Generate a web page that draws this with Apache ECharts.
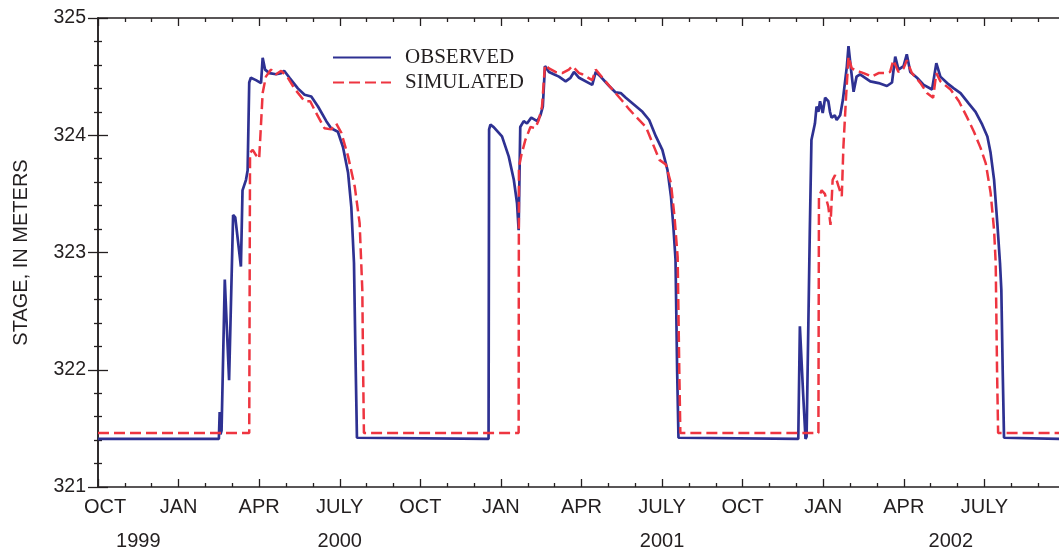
<!DOCTYPE html>
<html><head><meta charset="utf-8">
<script src="https://cdn.jsdelivr.net/npm/echarts@6/dist/echarts.min.js"></script>
<style>html,body{margin:0;padding:0;background:#fff}#c{width:1059px;height:552px}</style>
</head><body><div id="c"></div>
<script>
// x values: months since 1 Oct 1999; y values: stage in meters
const monthLabels = ['OCT', 'JAN', 'APR', 'JULY'];
const yearLabels = [[1.5, '1999'], [9, '2000'], [21, '2001'], [31.75, '2002']];
const yMin = 321, yMax = 325;
const xMin = 0, xMax = 36;

const observed = [
  [0, 321.41], [4.50, 321.41], [4.53, 321.64], [4.56, 321.45], [4.60, 321.48],
  [4.72, 322.77], [4.88, 321.91], [5.03, 323.32], [5.11, 323.30], [5.21, 323.10],
  [5.32, 322.88], [5.38, 323.53], [5.51, 323.62], [5.57, 323.70], [5.63, 324.45],
  [5.69, 324.49], [5.88, 324.47], [6.07, 324.445], [6.13, 324.66], [6.22, 324.56],
  [6.38, 324.53], [6.63, 324.52], [6.82, 324.53], [6.93, 324.55], [7.13, 324.49],
  [7.44, 324.40], [7.69, 324.345], [7.94, 324.33], [8.19, 324.245], [8.50, 324.12],
  [8.68, 324.06], [8.93, 324.03], [9.12, 323.90], [9.31, 323.68], [9.43, 323.39],
  [9.53, 322.91], [9.58, 322.2], [9.64, 321.42],
  [14.54, 321.41], [14.56, 324.05], [14.61, 324.09], [14.73, 324.07], [15.04, 323.99],
  [15.29, 323.82], [15.48, 323.62], [15.60, 323.42], [15.66, 323.19], [15.72, 324.07],
  [15.85, 324.12], [15.97, 324.10], [16.13, 324.15], [16.35, 324.12], [16.47, 324.17],
  [16.56, 324.245], [16.64, 324.59], [16.79, 324.54], [16.97, 324.52], [17.16, 324.50],
  [17.41, 324.46], [17.59, 324.49], [17.72, 324.54], [17.91, 324.49], [18.40, 324.43],
  [18.53, 324.54], [18.71, 324.50], [19.03, 324.42], [19.27, 324.365], [19.46, 324.36],
  [19.65, 324.32], [19.96, 324.26], [20.27, 324.20], [20.52, 324.13], [20.77, 323.99],
  [21.01, 323.875], [21.20, 323.705], [21.33, 323.48], [21.42, 323.22], [21.50, 322.94],
  [21.56, 322.0], [21.61, 321.42],
  [26.07, 321.41], [26.13, 322.37], [26.25, 321.8], [26.34, 321.41], [26.38, 321.43],
  [26.50, 323.19], [26.56, 323.96], [26.63, 323.95], [26.69, 324.10], [26.75, 324.245],
  [26.82, 324.20], [26.88, 324.29], [26.98, 324.19], [27.07, 324.32], [27.19, 324.29],
  [27.25, 324.20], [27.31, 324.15], [27.43, 324.17], [27.50, 324.13], [27.63, 324.17],
  [27.73, 324.30], [27.88, 324.59], [27.94, 324.76], [28.02, 324.59], [28.13, 324.37],
  [28.24, 324.50], [28.37, 324.52], [28.75, 324.46], [29.06, 324.445], [29.37, 324.42],
  [29.56, 324.45], [29.68, 324.67], [29.80, 324.56], [29.99, 324.59], [30.11, 324.69],
  [30.24, 324.54], [30.49, 324.49], [30.74, 324.43], [31.05, 324.39], [31.21, 324.615],
  [31.36, 324.50], [31.61, 324.445], [31.86, 324.40], [32.11, 324.36], [32.42, 324.27],
  [32.67, 324.20], [32.92, 324.09], [33.11, 323.99], [33.23, 323.85], [33.36, 323.62],
  [33.48, 323.25], [33.58, 322.91], [33.63, 322.68], [33.68, 322.0], [33.73, 321.42],
  [36, 321.41]
];

const simulated = [
  [0, 321.46], [5.63, 321.46], [5.66, 323.85], [5.76, 323.875], [5.88, 323.83],
  [6.00, 323.80], [6.07, 324.10], [6.13, 324.36], [6.25, 324.50], [6.44, 324.56],
  [6.63, 324.52], [6.82, 324.55], [7.07, 324.49], [7.31, 324.40], [7.69, 324.29],
  [7.90, 324.29], [8.12, 324.19], [8.43, 324.06], [8.68, 324.05], [8.87, 324.10],
  [9.06, 324.02], [9.31, 323.82], [9.56, 323.56], [9.74, 323.25], [9.84, 322.68],
  [9.87, 322.0], [9.90, 321.46],
  [15.66, 321.46], [15.67, 323.73], [15.76, 323.83], [15.91, 323.96], [16.10, 324.07],
  [16.28, 324.06], [16.41, 324.13], [16.53, 324.245], [16.64, 324.60], [16.79, 324.57],
  [17.03, 324.54], [17.28, 324.53], [17.53, 324.56], [17.66, 324.59], [17.91, 324.53],
  [18.03, 324.52], [18.40, 324.47], [18.53, 324.56], [18.78, 324.49], [19.15, 324.39],
  [19.53, 324.29], [19.78, 324.22], [20.02, 324.16], [20.40, 324.07], [20.65, 323.93],
  [20.90, 323.79], [21.14, 323.75], [21.33, 323.59], [21.46, 323.31], [21.58, 322.96],
  [21.64, 322.0], [21.68, 321.46],
  [26.82, 321.46], [26.84, 323.48], [26.94, 323.53], [27.06, 323.50], [27.19, 323.39],
  [27.27, 323.235], [27.35, 323.62], [27.44, 323.66], [27.56, 323.57], [27.69, 323.48],
  [27.75, 323.90], [27.85, 324.33], [27.94, 324.67], [28.06, 324.57], [28.37, 324.54],
  [28.50, 324.53], [28.81, 324.50], [29.06, 324.53], [29.37, 324.53], [29.49, 324.54],
  [29.61, 324.64], [29.80, 324.54], [29.99, 324.57], [30.11, 324.64], [30.30, 324.53],
  [30.62, 324.445], [30.86, 324.36], [31.09, 324.32], [31.21, 324.53], [31.36, 324.46],
  [31.74, 324.39], [32.05, 324.29], [32.36, 324.15], [32.61, 324.03], [32.86, 323.89],
  [33.05, 323.76], [33.23, 323.51], [33.36, 323.19], [33.42, 322.91], [33.47, 322.0],
  [33.51, 321.46], [36, 321.46]
];

const AX = '#231F20';
const SANS = "'Liberation Sans', Arial, sans-serif";
const axisLineStyle = { lineStyle: { color: AX, width: 1.5 } };

function baseX(extra) {
  return Object.assign({
    type: 'value', min: xMin, max: xMax, interval: 3,
    axisLine: axisLineStyle,
    axisTick: { show: true, inside: true, length: 8, lineStyle: { color: AX, width: 1.3 } },
    minorTick: { show: true, splitNumber: 3, length: 4, lineStyle: { color: AX, width: 1.3 } },
    splitLine: { show: false }, minorSplitLine: { show: false }
  }, extra);
}
function baseY(extra) {
  return Object.assign({
    type: 'value', min: yMin, max: yMax, interval: 1,
    axisLine: { show: true, lineStyle: { color: AX, width: 1.5 } },
    axisTick: { show: true, inside: true, length: 10, lineStyle: { color: AX, width: 1.3 } },
    minorTick: { show: true, splitNumber: 5, length: 4, lineStyle: { color: AX, width: 1.3 } },
    splitLine: { show: false }, minorSplitLine: { show: false }
  }, extra);
}

const chart = echarts.init(document.getElementById('c'), null, { renderer: 'canvas' });
chart.setOption({
  animation: false,
  backgroundColor: '#fff',
  grid: { left: 98, top: 18, right: -6, bottom: 65, containLabel: false, outerBoundsMode: 'none' },
  legend: {
    data: ['OBSERVED', 'SIMULATED'],
    orient: 'vertical', left: 327, top: 42,
    itemWidth: 58, itemHeight: 14, itemGap: 4,
    itemStyle: { opacity: 0, borderWidth: 0 },
    textStyle: { fontFamily: "'Liberation Serif', 'Times New Roman', serif", fontSize: 21, color: AX, padding: [0, 0, 0, 9] }
  },
  xAxis: [
    baseX({
      position: 'bottom',
      axisLabel: {
        show: true, margin: 10, color: AX, fontFamily: SANS, fontSize: 20, showMaxLabel: false,
        formatter: function (v) {
          const t = monthLabels[Math.round(v / 3) % 4];
          return v === 0 ? '{first|' + t + '}' : t;
        },
        rich: { first: { padding: [0, 0, 0, 14], fontFamily: SANS, fontSize: 20, color: AX } }
      }
    }),
    baseX({ position: 'top', axisLabel: { show: false } }),
    {
      type: 'value', min: xMin, max: xMax, interval: 0.25, position: 'bottom',
      axisLine: { show: false }, axisTick: { show: false }, splitLine: { show: false },
      axisLabel: {
        show: true, margin: 44, color: AX, fontFamily: SANS, fontSize: 20,
        showMinLabel: true, showMaxLabel: true,
        formatter: function (v) {
          for (const [m, t] of yearLabels) if (Math.abs(v - m) < 1e-6) return t;
          return '';
        }
      }
    }
  ],
  yAxis: [
    baseY({
      position: 'left',
      name: 'STAGE, IN METERS', nameLocation: 'middle', nameGap: 67,
      nameTextStyle: { fontFamily: SANS, fontSize: 20, color: AX },
      axisLabel: { show: true, margin: 12, color: AX, fontFamily: SANS, fontSize: 19.5 }
    }),
    baseY({ position: 'right', axisLabel: { show: false } })
  ],
  series: [
    {
      name: 'OBSERVED', type: 'line', data: observed, symbol: 'none', showSymbol: false,
      xAxisIndex: 0, yAxisIndex: 0,
      lineStyle: { color: '#2E3192', width: 2.7 }, itemStyle: { color: '#2E3192' }
    },
    {
      name: 'SIMULATED', type: 'line', data: simulated, symbol: 'none', showSymbol: false,
      xAxisIndex: 0, yAxisIndex: 0,
      lineStyle: { color: '#EE3540', width: 2.5, type: [11, 5] }, itemStyle: { color: '#EE3540' }
    }
  ]
});
</script>
</body></html>
